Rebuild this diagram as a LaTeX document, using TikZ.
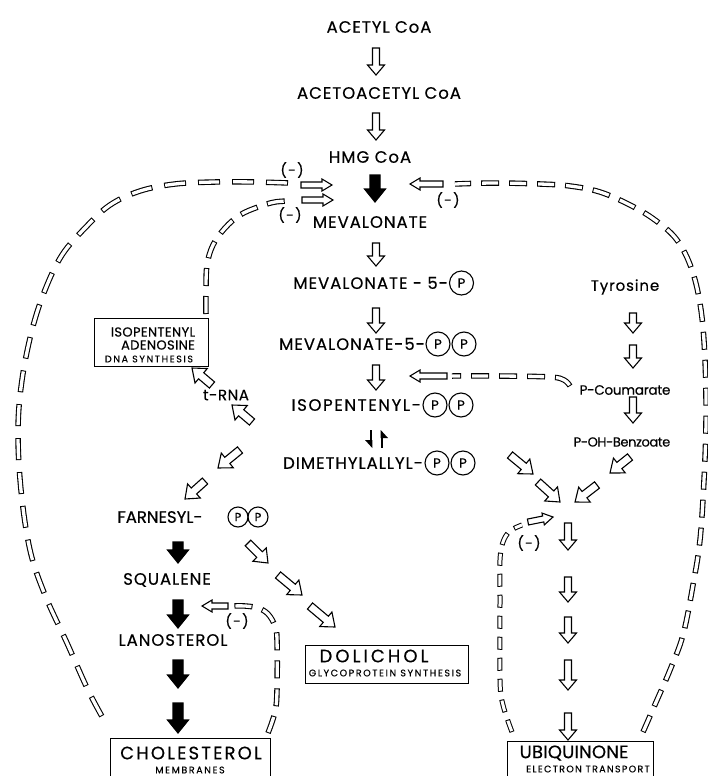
\documentclass[tikz,border=0pt]{standalone}
\usepackage{fontspec}
\setmainfont{Poppins}[FakeBold=0.4]
\newcommand\BAgen[8]{%
  \pgfmathsetmacro\bdx{#3-#1}%
  \pgfmathsetmacro\bdy{#4-#2}%
  \pgfmathsetmacro\blen{veclen(\bdx,\bdy)}%
  \pgfmathsetmacro\bang{atan2(-\bdy,\bdx)}%
  \pgfmathsetmacro\bneck{\blen-#7}%
  \draw[blkline, fill=#8, shift={(#1,#2)}, rotate=\bang]
    (0,-#5/2) -- (\bneck,-#5/2) -- (\bneck,-#6/2) -- (\blen,0)
    -- (\bneck,#6/2) -- (\bneck,#5/2) -- (0,#5/2) -- cycle;}
\newcommand\oA[4]{\BAgen{#1}{#2}{#3}{#4}{7}{17}{10}{white}}
\newcommand\dA[4]{\BAgen{#1}{#2}{#3}{#4}{8}{19}{12}{white}}
\newcommand\sA[4]{\BAgen{#1}{#2}{#3}{#4}{10}{21}{13}{black}}
\newcommand\hA[4]{\BAgen{#1}{#2}{#3}{#4}{6}{12}{10}{white}}
\newcommand\fsz[3]{\fontsize{#1}{#2}\selectfont\addfontfeature{LetterSpace=#3}}
\tikzset{
  lab/.style={inner sep=0pt, font=\fsz{16.5}{19}{6}},
  big/.style={inner sep=0pt, font=\fsz{18}{20}{12}},
  midl/.style={inner sep=0pt, font=\fsz{13}{15}{3}},
  tinyl/.style={inner sep=0pt, font=\fsz{9.5}{11}{17}},
  negl/.style={inner sep=0pt, font=\fsz{14}{16}{10}},
  pc/.style={circle, draw, line width=1.1pt, minimum size=24pt, inner sep=0pt, font=\fsz{13}{15}{0}},
  pcs/.style={pc, minimum size=20pt, font=\fsz{11.5}{13}{0}},
  bx/.style={draw, line width=1pt, inner sep=0pt},
  blkline/.style={line width=1.1pt, line join=miter},
  dashA/.style={line width=5.5pt, dash pattern=on 22pt off 12pt,
    postaction={draw=white, line width=3.3pt, dash pattern=on 20pt off 14pt, dash phase=33pt}},
  dashB/.style={line width=5.5pt, dash pattern=on 18pt off 10pt,
    postaction={draw=white, line width=3.3pt, dash pattern=on 16pt off 12pt, dash phase=27pt}},
  dashC/.style={line width=5pt, dash pattern=on 13pt off 8pt,
    postaction={draw=white, line width=3pt, dash pattern=on 11pt off 10pt, dash phase=20pt}},
}
\begin{document}
\begin{tikzpicture}[x=1pt,y=-1pt]
\path[fill=white, use as bounding box] (0,0) rectangle (707,776);

% main column labels
\node[lab] (acetyl) at (379,27) {ACETYL CoA};
\node[lab] (acetoac) at (379,93) {ACETOACETYL CoA};
\node[lab] (hmg) at (370,157) {HMG CoA};
\node[lab] (meval) at (370,222) {MEVALONATE};
\node[lab, anchor=east] (mv5) at (448,283) {MEVALONATE - 5-};
\node[pc] (mv5p) at (461.5,283) {P};
\node[lab, anchor=east] (mv5pp) at (425,344) {MEVALONATE-5-};
\node[pc] (mv5pa) at (438,344) {P};
\node[pc] (mv5pb) at (464,344) {P};
\node[lab, anchor=east, font=\fsz{16.5}{19}{10}] (ipp) at (421,405) {ISOPENTENYL-};
\node[pc] (ippa) at (435,405) {P};
\node[pc] (ippb) at (461,405) {P};
\node[lab, anchor=east] (dmapp) at (423,463) {DIMETHYLALLYL-};
\node[pc] (dmappa) at (437,463) {P};
\node[pc] (dmappb) at (463,463) {P};

% left branch labels
\node[lab, font=\fsz{16.5}{19}{0}] (farn) at (160,517) {FARNESYL-};
\node[pcs] (farna) at (238,517) {P};
\node[pcs] (farnb) at (258,517) {P};
\node[lab] (squal) at (167,580) {SQUALENE};
\node[lab] (lano) at (173,640) {LANOSTEROL};
\node[inner sep=0pt, font=\fsz{15}{17}{4}] (trna) at (226,395) {t-RNA};

% right branch labels
\node[inner sep=0pt, font=\fsz{15}{17}{6}] (tyr) at (625,287) {Tyrosine};
\node[inner sep=0pt, font=\fsz{13.5}{15}{-2}] (pcoum) at (625,390) {P-Coumarate};
\node[inner sep=0pt, font=\fsz{13}{15}{-3}] (pohb) at (622,442) {P-OH-Benzoate};

% boxes
\node[bx, minimum width=114pt, minimum height=48pt] (iabox) at (151,342) {};
\node[midl] (ia1) at (153,332) {ISOPENTENYL};
\node[midl] (ia2) at (158,345) {ADENOSINE};
\node[tinyl] (ia3) at (149,359) {DNA SYNTHESIS};

\node[bx, minimum width=160pt, minimum height=44pt] (cholbox) at (190,760) {};
\node[big] (chol) at (191,753) {CHOLESTEROL};
\node[tinyl] (memb) at (190,770) {MEMBRANES};

\node[bx, minimum width=163pt, minimum height=38pt] (dolbox) at (386.5,664) {};
\node[big, font=\fsz{18}{20}{17}] (dol) at (374,656) {DOLICHOL};
\node[tinyl] (glyc) at (385,673) {GLYCOPROTEIN SYNTHESIS};

\node[bx, minimum width=146pt, minimum height=46pt] (ubibox) at (580,764) {};
\node[big, font=\fsz{18}{20}{1}] (ubi) at (574,753) {UBIQUINONE};
\node[tinyl, font=\fsz{9.5}{11}{14}] (etr) at (588,769) {ELECTRON TRANSPORT};

% (-) labels
\node[negl] (n1) at (292,170) {(-)};
\node[negl] (n2) at (290,215) {(-)};
\node[negl] (n3) at (448,200) {(-)};
\node[negl] (n4) at (529,543) {(-)};
\node[negl] (n5) at (237,621) {(-)};

% main column arrows
\oA{376}{48}{376}{75}
\oA{376}{113}{376}{140}
\sA{375}{175}{375}{202}
\oA{376}{243}{376}{266}
\oA{376}{308}{376}{333}
\oA{376}{365}{376}{390}

% equilibrium harpoons
\draw[line width=2.6pt] (371,430) -- (371,446);
\fill (372.3,448) -- (365,440) -- (372.3,440) -- cycle;
\draw[line width=2.6pt] (382,432) -- (382,448);
\fill (380.7,430) -- (388,438) -- (380.7,438) -- cycle;

% right column arrows
\oA{633}{313}{633}{333}
\oA{633}{345}{633}{368}
\oA{633}{397}{633}{423}

% diagonal arrows
\dA{252}{422}{232}{405}
\dA{212}{385}{192}{368}
\dA{240}{450}{218}{468}
\dA{205}{481}{185}{499}
\dA{248}{543}{268}{563}
\dA{278}{575}{302}{595}
\dA{310}{606}{335}{627}
\dA{510}{455}{533}{474}
\dA{538}{482}{560}{502}
\dA{630}{457}{610}{473}
\dA{597}{485}{575}{502}

% ubiquinone chain
\oA{568}{523}{568}{550}
\oA{568}{577}{568}{602}
\oA{568}{617}{568}{643}
\oA{568}{660}{568}{690}
\oA{568}{713}{568}{740}

% farnesyl to cholesterol chain
\sA{178}{542}{178}{563}
\sA{178}{600}{178}{628}
\sA{178}{660}{178}{688}
\sA{178}{703}{178}{733}

% dashed feedback loops
\draw[dashA] plot[smooth, tension=0.6] coordinates {(288,183) (255,182) (215,182) (175,184) (140,191) (110,205) (85,228) (62,255) (45,290) (32,330) (22,380) (18,430) (21,490) (30,550) (45,595) (67,643) (88,690) (104,720)};
\hA{301}{185}{332}{185}

\draw[dashB] plot[smooth, tension=0.6] coordinates {(206,314) (206,290) (207,265) (213,245) (225,228) (240,215) (258,207) (275,202) (292,201)};
\hA{302}{200}{333}{200}

\draw[dashB] plot[smooth, tension=0.6] coordinates {(643,732) (657,700) (670,670) (683,635) (693,585) (700,540) (704,480) (706,420) (705,360) (701,310) (692,270) (677,240) (655,220) (630,205) (600,192) (570,186) (540,184) (495,183) (455,184)};
\hA{443}{184}{410}{184}

\draw[dashC] plot[smooth, tension=0.6] coordinates {(512,732) (503,705) (500,680) (500,600) (500,560) (503,542) (510,531) (522,525)};
\hA{528}{522}{553}{517}

\draw[dashB] plot[smooth, tension=0.6] coordinates {(268,733) (275,712) (277,690) (277,640) (275,626) (268,614) (258,608) (245,606) (233,606)};
\hA{228}{606}{202}{606}

\draw[dashB] plot[smooth, tension=0.6] coordinates {(570,386) (564,380) (550,377) (500,376) (452,376)};
\hA{447}{376}{410}{376}
\end{tikzpicture}
\end{document}
